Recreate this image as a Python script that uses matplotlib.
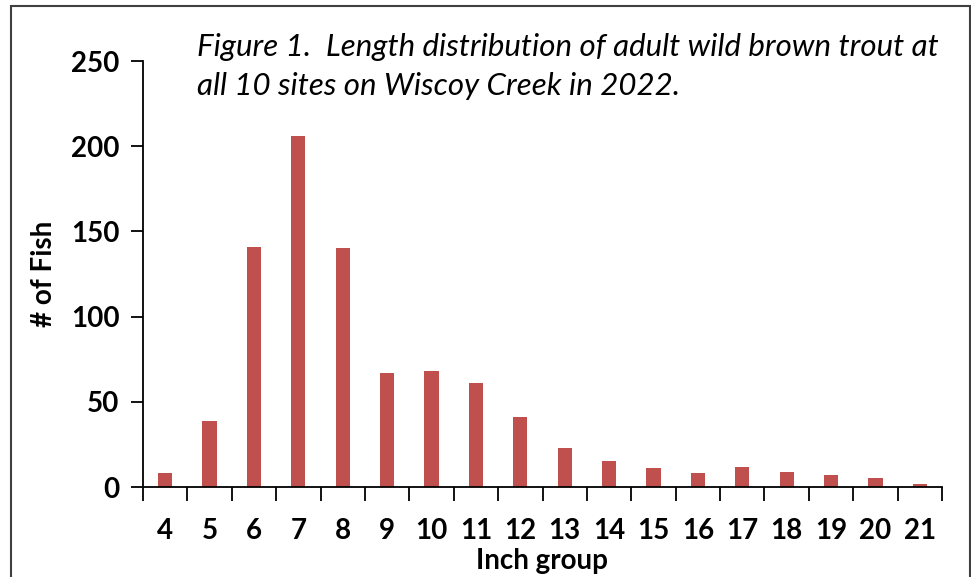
import matplotlib
matplotlib.use("Agg")
import matplotlib.pyplot as plt
from matplotlib.patches import Rectangle
import numpy as np

inch_groups = [4, 5, 6, 7, 8, 9, 10, 11, 12, 13, 14, 15, 16, 17, 18, 19, 20, 21]
fish_counts = [8, 39, 141, 206, 140, 67, 68, 61, 41, 23, 15, 11, 8, 12, 9, 7, 5, 2]
y_ticks = [0, 50, 100, 150, 200, 250]
title = "Figure 1.  Length distribution of adult wild brown trout at\nall 10 sites on Wiscoy Creek in 2022."

plt.rcParams['font.family'] = ['Lato', 'DejaVu Sans']

fig = plt.figure(figsize=(9.71, 5.77), dpi=100)
ax = fig.add_axes([143 / 971, 1 - 487 / 577, (942 - 143) / 971, (487 - 61) / 577])

x = np.arange(len(inch_groups))
ax.bar(x, fish_counts, width=0.32, color='#C0504D')

ax.set_xlim(-0.5, len(inch_groups) - 0.5)
ax.set_ylim(0, 250)
ax.set_yticks(y_ticks)
ax.set_yticklabels([str(v) for v in y_ticks], fontsize=20, fontweight='bold')
ax.tick_params(axis='y', direction='out', length=9, width=1.3, pad=8)

# ticks at category boundaries, labels at category centres
ax.set_xticks(np.arange(len(inch_groups) + 1) - 0.5)
ax.set_xticklabels([])
ax.set_xticks(x, minor=True)
ax.set_xticklabels([str(v) for v in inch_groups], minor=True, fontsize=20, fontweight='bold')
ax.tick_params(axis='x', which='major', direction='out', length=10, width=1.3)
ax.tick_params(axis='x', which='minor', length=0, pad=22)

for side in ['top', 'right']:
    ax.spines[side].set_visible(False)
for side in ['left', 'bottom']:
    ax.spines[side].set_linewidth(1.3)

ax.set_xlabel('Inch group', fontsize=20, fontweight='bold', labelpad=3)
ax.set_ylabel('# of Fish', fontsize=20, fontweight='bold', labelpad=10)

fig.text(197 / 971, 1 - 33 / 577, title, fontsize=22.5, style='italic',
         ha='left', va='top', linespacing=1.5)

# outer chart frame
fig.patches.append(Rectangle((11 / 971, -0.05), (970 - 11) / 971, 1.05 - 6 / 577,
                             transform=fig.transFigure, fill=False,
                             edgecolor='#404040', linewidth=1.5))

fig.savefig('out.png', dpi=100)
